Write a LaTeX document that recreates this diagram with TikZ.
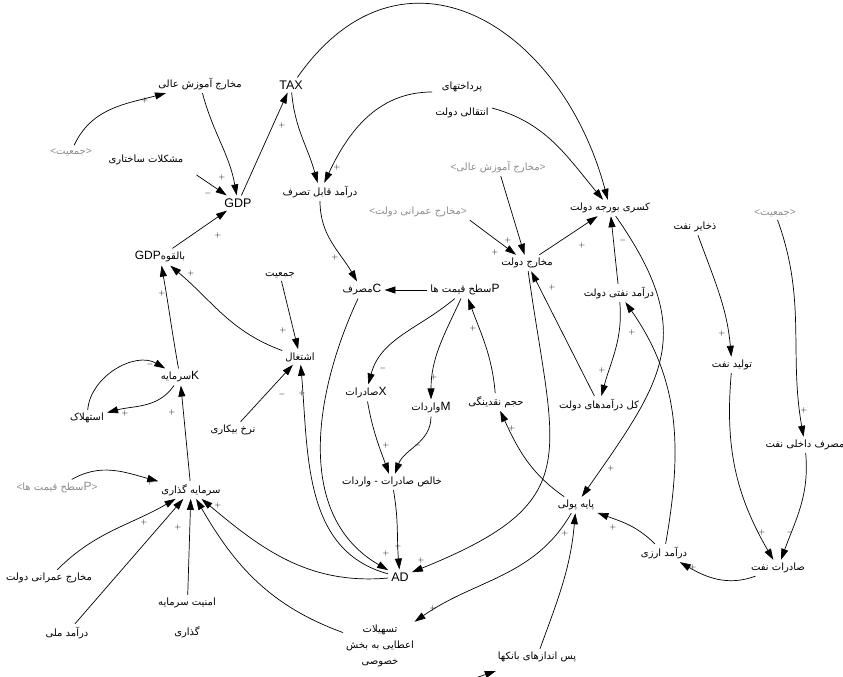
\documentclass[tikz,border=0pt]{standalone}
\usepackage{fontspec}
\setmainfont{Liberation Sans}
\newfontfamily\arabicfont[Script=Arabic]{DejaVu Sans}
\usetikzlibrary{arrows.meta, calc}
\TeXXeTstate=1
\definecolor{shadowgray}{HTML}{8C8C8C}
\newcommand{\fa}[1]{{\arabicfont\beginR #1\endR}}
\newcommand{\latn}[1]{{\rmfamily\fontsize{12}{12}\selectfont #1}}

\begin{document}
\begin{tikzpicture}[x=1pt, y=1pt,
    var/.style={inner sep=3pt, font=\fontsize{10}{12}\selectfont},
    shd/.style={var, text=shadowgray},
    lat/.style={inner sep=3pt, font=\fontsize{12.5}{14}\selectfont},
    link/.style={-{Triangle[length=11pt, width=7pt]}, line width=0.7pt},
    sgn/.style={inner sep=0pt, font=\fontsize{8}{8}\selectfont}]
  \useasboundingbox (0,0) rectangle (843,-677);
  \clip (0,0) rectangle (843,-677);

  % variables
  \node[var] (hiedu) at (200,-84) {\fa{مخارج آموزش عالی}};
  \node[shd] (popL) at (71,-152) {<\fa{جمعیت}>};
  \node[var] (struct) at (146,-160) {\fa{مشکلات ساختاری}};
  \node[lat] (gdp) at (238,-203) {GDP};
  \node[lat] (tax) at (291,-85) {TAX};
  \node[var, align=center, font=\fontsize{10}{26}\selectfont] (transfer) at (462,-100) {\fa{پرداختهای}\\\fa{انتقالی دولت}};
  \node[var] (disp) at (320,-192) {\fa{درآمد قابل تصرف}};
  \node[shd] (hieduS) at (498,-167) {<\fa{مخارج آموزش عالی}>};
  \node[shd] (civS) at (418,-212) {<\fa{مخارج عمرانی دولت}>};
  \node[var] (gov) at (527,-263) {\fa{مخارج دولت}};
  \node[var] (deficit) at (610,-208) {\fa{کسری بورجه دولت}};
  \node[var] (oilrev) at (619,-293) {\fa{درآمد نفتی دولت}};
  \node[var] (oilres) at (695,-227) {\fa{ذخایر نفت}};
  \node[shd] (popR) at (775,-213) {<\fa{جمعیت}>};
  \node[var] (oilprod) at (732,-365) {\fa{تولید نفت}};
  \node[var] (oilcons) at (805,-445) {\fa{مصرف داخلی نفت}};
  \node[var] (totrev) at (599,-405) {\fa{کل درآمدهای دولت}};
  \node[var] (price) at (465,-290) {\fa{\latn{P}سطح قیمت ها}};
  \node[var] (cons) at (362,-290) {\fa{\latn{C}مصرف}};
  \node[var] (pop) at (280,-275) {\fa{جمعیت}};
  \node[var] (emp) at (300,-357) {\fa{اشتغال}};
  \node[var] (pgdp) at (160,-257) {\fa{بالقوه\latn{GDP}}};
  \node[var] (cap) at (180,-377) {\fa{\latn{K}سرمایه}};
  \node[var] (depr) at (87,-418) {\fa{استهلاک}};
  \node[var] (unemp) at (233,-430) {\fa{نرخ بیکاری}};
  \node[var] (exp) at (366,-393) {\fa{\latn{X}صادرات}};
  \node[var] (imp) at (431,-408) {\fa{\latn{M}واردات}};
  \node[var] (liq) at (496,-402) {\fa{حجم نقدینگی}};
  \node[var] (netx) at (392,-482) {\fa{خالص صادرات - واردات}};
  \node[lat] (ad) at (400,-577) {AD};
  \node[var] (base) at (576,-505) {\fa{پایه پولی}};
  \node[var] (fx) at (664,-553) {\fa{درآمد ارزی}};
  \node[var] (oilexp) at (778,-568) {\fa{صادرات نفت}};
  \node[var] (inv) at (191,-490) {\fa{سرمایه گذاری}};
  \node[shd] (priceS) at (57,-488) {<\fa{\latn{P}سطح قیمت ها}>};
  \node[var] (civ) at (49,-578) {\fa{مخارج عمرانی دولت}};
  \node[var] (natinc) at (67,-633) {\fa{درآمد ملی}};
  \node[var, align=center, font=\fontsize{10}{30}\selectfont] (secur) at (187,-618) {\fa{امنیت سرمایه}\\\fa{گذاری}};
  \node[var, align=center, font=\fontsize{10}{16}\selectfont] (loans) at (380,-646) {\fa{تسهیلات}\\\fa{اعطایی به بخش}\\\fa{خصوصی}};
  \node[var] (save) at (537,-657) {\fa{پس اندازهای بانکها}};
  \coordinate (savein) at (440,-690);

  % links
  \draw[link] (popL) to[out=65,in=195] (hiedu);
  \draw[link] (hiedu) to[out=-75,in=100] (gdp);
  \draw[link, shorten <=12pt] (struct.south east) -- (gdp);
  \draw[link] (pgdp) -- (gdp);
  \draw[link] (gdp) -- (tax);
  \draw[link] (tax) to[out=-85,in=105] (disp);
  \draw[link] (transfer.165) to[out=180,in=65] (disp);
  \draw[link] (tax.50) to[out=55,in=105,looseness=1.4] (deficit);
  \draw[link] (transfer.-15) to[out=-15,in=130] (deficit);
  \draw[link] (disp) to[out=-90,in=120] (cons);
  \draw[link] (hieduS) -- (gov);
  \draw[link] (civS.south east) -- (gov);
  \draw[link] (gov) -- (deficit);
  \draw[link] (oilrev) -- (deficit);
  \draw[link] (deficit) to[out=-55,in=55,looseness=1.3] (base);
  \draw[link] (oilrev) to[out=-85,in=75] (totrev);
  \draw[link] (totrev) -- (gov);
  \draw[link] (fx) to[out=80,in=-55] (oilrev);
  \draw[link] (cap) to[out=100,in=-80] (pgdp);
  \draw[link] (cap) to[out=-125,in=15] (depr);
  \draw[link] (depr) to[out=85,in=150] (cap);
  \draw[link] (emp) to[out=160,in=-40] (pgdp);
  \draw[link] (pop) -- (emp);
  \draw[link] (unemp) -- (emp);
  \draw[link] (ad) to[out=165,in=-85] (emp);
  \draw[link] (inv) -- (cap);
  \draw[link] (priceS) to[out=30,in=165] (inv);
  \draw[link] (civ) to[out=45,in=-150] (inv);
  \draw[link] (natinc) -- (inv);
  \draw[link] (secur) -- (inv);
  \draw[link] (ad) to[out=185,in=-40] (inv);
  \draw[link] (loans) to[out=160,in=-60] (inv);
  \draw[link] (price) -- (cons);
  \draw[link] (price) to[out=-140,in=75] (exp);
  \draw[link] (price) to[out=-115,in=90] (imp);
  \draw[link] (liq) to[out=95,in=-70] (price);
  \draw[link] (exp) to[out=-80,in=110] (netx);
  \draw[link] (imp) to[out=-90,in=70] (netx);
  \draw[link] (netx) to[out=-80,in=95] (ad);
  \draw[link] (cons) to[out=-115,in=150] (ad);
  \draw[link] (gov) to[out=-82,in=22,looseness=1.5] (ad);
  \draw[link] (base) to[out=145,in=-65] (liq);
  \draw[link] (base) to[out=-120,in=35] (loans);
  \draw[link] (save) to[out=70,in=-95] (base);
  \draw[link] (fx) to[out=135,in=-20] (base);
  \draw[link] (oilexp) to[out=-160,in=-30] (fx);
  \draw[link] (oilres) to[out=-70,in=95] (oilprod);
  \draw[link] (popR) to[out=-70,in=100] (oilcons);
  \draw[link] (oilprod) to[out=-95,in=120] (oilexp);
  \draw[link] (oilcons) to[out=-85,in=70] (oilexp);
  \draw[link, shorten >=18pt] (savein) -- (save);

  % polarities
  \foreach \x/\y/\s [count=\i] in {145/100/+, 222/177/+, 208/193/-, 218/235/+, 282/125/+,
      337/167/+, 335/257/+, 508/240/+, 495/252/+, 582/245/+, 623/240/-, 611/468/+,
      602/370/+, 552/287/+, 632/332/+, 162/293/+, 125/413/+, 150/364/-, 191/273/+,
      283/330/+, 282/394/-, 302/393/+, 172/412/+, 150/482/+, 144/522/+, 178/527/+,
      218/505/+, 473/328/+, 383/368/-, 434/377/+, 386/445/+, 418/445/-, 386/553/+,
      398/546/+, 421/560/+, 512/428/+, 433/608/+, 565/533/+, 613/527/+, 693/567/+,
      722/333/+, 804/410/+, 762/532/+, 790/532/-}
    \node[sgn] (sg\i) at (\x,-\y) {$\s$};
\end{tikzpicture}
\end{document}
